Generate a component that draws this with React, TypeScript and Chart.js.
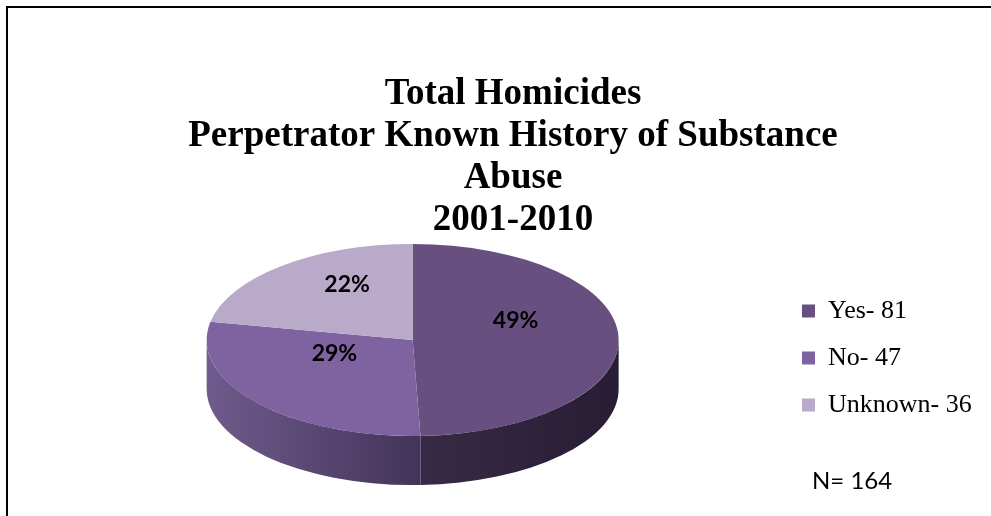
import React, { useEffect, useRef } from "react";
import { Chart, registerables } from "chart.js";

Chart.register(...registerables);

// ---- data ----
const TITLE_LINES = [
  "Total Homicides",
  "Perpetrator Known History of Substance",
  "Abuse",
  "2001-2010",
];
const CATEGORIES = ["Yes", "No", "Unknown"];
const COUNTS = [81, 47, 36];

// ---- styles ----
const TOP_COLORS = ["#67507f", "#7f62a0", "#b8aac8"];
const SIDE_COLORS = [
  ["#372a45", "#281d35"],
  ["#6f5b8c", "#433459"],
  ["#9a8cae", "#7d6f92"],
];
const SQUASH_X = 1.7095; // horizontal radius / chart radius
const DEPTH = 0.4066; // wall height / chart radius
const APEX_SHIFT = 0.15; // perspective shift of the apex (for label anchor)
const LABEL_FRACTION = 0.5;

const total = COUNTS.reduce((a, b) => a + b, 0);
const legendLabels = CATEGORIES.map((c, i) => `${c}- ${COUNTS[i]}`);

function geometry(chart: any) {
  const meta = chart.getDatasetMeta(0);
  const arcs = meta.data;
  if (!arcs || !arcs.length) return null;
  const p = arcs[0].getProps(["x", "y", "outerRadius"], true);
  const r = p.outerRadius;
  const depth = r * DEPTH;
  const rx = r * SQUASH_X;
  const ry = r - depth / 2;
  return { arcs, cx: p.x, cy: p.y, r, depth, rx, ry, ex: p.x, ey: p.y - depth / 2 };
}

const pie3d = {
  id: "pie3d",
  beforeDatasetsDraw(chart: any) {
    const g = geometry(chart);
    const ctx = chart.ctx;
    ctx.save();
    if (!g) return;
    const { arcs, ex, ey, rx, ry, depth, cx, cy, r } = g;
    arcs.forEach((arc: any, i: number) => {
      const { startAngle, endAngle } = arc.getProps(["startAngle", "endAngle"], true);
      const a1 = Math.max(startAngle, 0);
      const a2 = Math.min(endAngle, Math.PI);
      if (a2 <= a1) return;
      const x1 = ex + rx * Math.cos(a1);
      const x2 = ex + rx * Math.cos(a2);
      const grad = ctx.createLinearGradient(Math.min(x1, x2), 0, Math.max(x1, x2), 0);
      grad.addColorStop(0, SIDE_COLORS[i][0]);
      grad.addColorStop(1, SIDE_COLORS[i][1]);
      ctx.beginPath();
      ctx.ellipse(ex, ey, rx, ry, 0, a1, a2, false);
      ctx.ellipse(ex, ey + depth, rx, ry, 0, a2, a1, true);
      ctx.closePath();
      ctx.fillStyle = grad;
      ctx.fill();
    });
    ctx.translate(ex, ey);
    ctx.scale(rx / r, ry / r);
    ctx.translate(-cx, -cy);
  },
  afterDatasetsDraw(chart: any) {
    const ctx = chart.ctx;
    ctx.restore();
    const g = geometry(chart);
    if (!g) return;
    const { arcs, ex, ey, rx, ry, r } = g;
    const values = chart.data.datasets[0].data as number[];
    const sum = values.reduce((a, b) => a + b, 0);
    ctx.save();
    ctx.font = "bold 23px Lato";
    ctx.fillStyle = "#000";
    ctx.textAlign = "center";
    ctx.textBaseline = "middle";
    arcs.forEach((arc: any, i: number) => {
      const { startAngle, endAngle } = arc.getProps(["startAngle", "endAngle"], true);
      const mid = (startAngle + endAngle) / 2;
      const x = ex + LABEL_FRACTION * rx * Math.cos(mid);
      const y = ey - APEX_SHIFT * r + LABEL_FRACTION * ry * Math.sin(mid);
      ctx.fillText(`${Math.round((values[i] / sum) * 100)}%`, x, y);
    });
    ctx.restore();
  },
  afterDraw(chart: any) {
    const ctx = chart.ctx;
    const lg = chart.legend;
    if (!lg || !lg.legendHitBoxes || !lg.legendHitBoxes.length) return;
    const boxLeft = lg.legendHitBoxes[0].left;
    ctx.save();
    ctx.font = "24px Lato";
    ctx.fillStyle = "#000";
    ctx.textAlign = "left";
    ctx.textBaseline = "middle";
    ctx.fillText(`N= ${total}`, boxLeft + 10, chart.chartArea.bottom - 4);
    ctx.restore();
  },
};

export default function App() {
  const ref = useRef<HTMLCanvasElement | null>(null);
  useEffect(() => {
    if (!ref.current) return;
    const chart = new Chart(ref.current, {
      type: "pie",
      data: {
        labels: legendLabels,
        datasets: [
          {
            data: COUNTS,
            backgroundColor: TOP_COLORS,
            borderWidth: 0,
            hoverOffset: 0,
            offset: 0,
            clip: false as any,
          },
        ],
      },
      options: {
        responsive: false,
        animation: false,
        events: [],
        layout: { padding: { left: 44.3, right: 9.3, top: 0, bottom: 31 } },
        plugins: {
          tooltip: { enabled: false },
          title: {
            display: true,
            fullSize: true,
            text: TITLE_LINES,
            color: "#000",
            font: { family: "Liberation Serif", size: 37, weight: "bold", lineHeight: 42 / 37 },
            padding: { top: 73.5, bottom: 2.5 },
          },
          legend: {
            position: "right",
            align: "start",
            fullSize: false,
            title: { display: true, text: "", padding: 0, font: { size: 33, lineHeight: 1 } },
            labels: {
              boxWidth: 13,
              boxHeight: 13,
              padding: 21,
              color: "#000",
              font: { family: "Liberation Serif", size: 26 },
            },
          },
        },
      },
      plugins: [pie3d],
    });
    return () => chart.destroy();
  }, []);

  return (
    <div style={{ position: "fixed", left: 0, top: 0, width: 991, height: 516, background: "#fff" }}>
      <canvas ref={ref} width={991} height={516} style={{ position: "absolute", left: 0, top: 0, width: 991, height: 516 }} />
      <div
        style={{
          position: "absolute",
          left: 6,
          top: 6,
          width: 985,
          height: 510,
          borderTop: "2px solid #000",
          borderLeft: "2px solid #000",
          boxSizing: "border-box",
          pointerEvents: "none",
        }}
      />
    </div>
  );
}
